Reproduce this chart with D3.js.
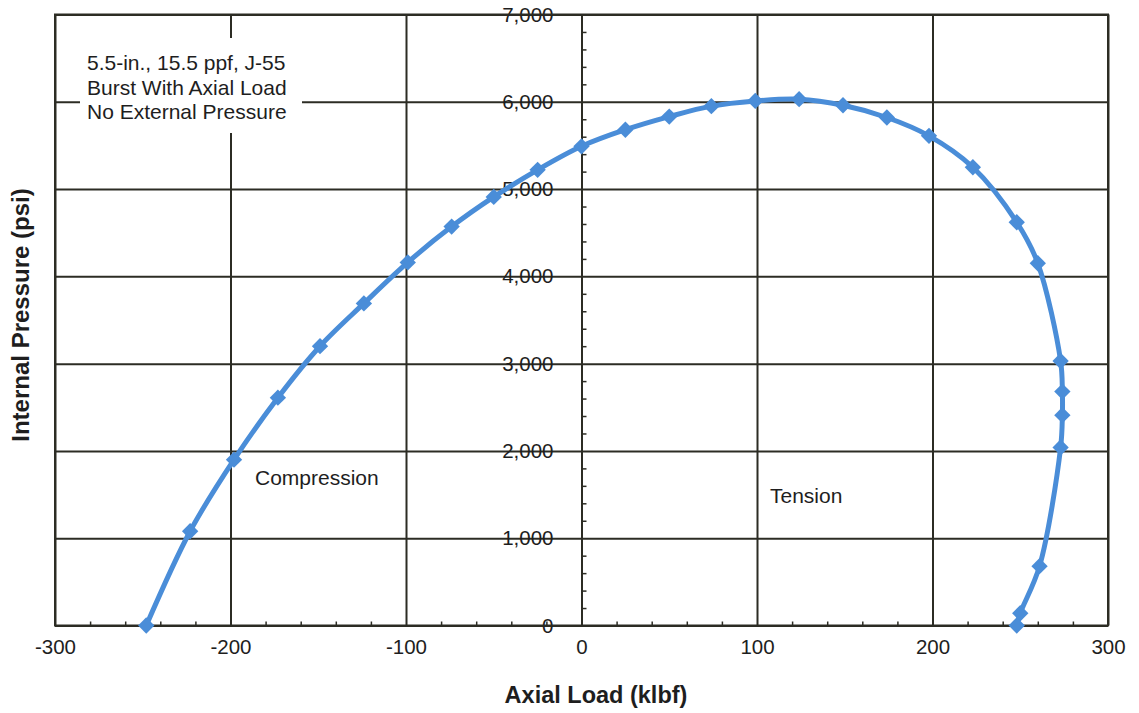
<!DOCTYPE html>
<html>
<head>
<meta charset="utf-8">
<script src="https://cdn.jsdelivr.net/npm/d3@7"></script>
<style>
  html, body { margin: 0; padding: 0; background: #fff; }
  svg { display: block; font-family: "Liberation Sans", Arial, sans-serif; }
</style>
</head>
<body>
<svg id="chart" width="1139" height="713"></svg>
<script>
// ---- data ----
const axialLoad = [-248, -223, -198, -173, -149, -124, -99, -74, -50, -25, 0, 25, 50, 74, 99, 124, 149, 174, 198, 223, 248, 260, 273, 274, 274, 273, 261, 250, 248];
const internalPressure = [0, 1080, 1900, 2610, 3200, 3690, 4160, 4570, 4910, 5220, 5490, 5680, 5830, 5950, 6010, 6030, 5960, 5820, 5610, 5250, 4620, 4150, 3030, 2680, 2410, 2040, 680, 140, 0];
const xTicks = [-300, -200, -100, 0, 100, 200, 300];
const yTicks = [0, 1000, 2000, 3000, 4000, 5000, 6000, 7000];
const noteLines = ["5.5-in., 15.5 ppf, J-55", "Burst With Axial Load", "No External Pressure"];
const regionLabels = ["Compression", "Tension"];
const xTitle = "Axial Load (klbf)";
const yTitle = "Internal Pressure (psi)";

// ---- layout ----
const plotL = 55, plotR = 1108, plotT = 14.5, plotB = 625.5;
const gridColor = "#2c2c24";
const textColor = "#1e1e1e";
const blue = "#4a8dd8";

const svg = d3.select("#chart");
const x = d3.scaleLinear().domain([-300, 300]).range([plotL, plotR]);
const y = d3.scaleLinear().domain([0, 7000]).range([plotB, plotT]);

// vertical grid lines
svg.append("g")
  .attr("transform", `translate(0,${plotB})`)
  .call(d3.axisBottom(x).tickValues(xTicks).tickSize(-(plotB - plotT)).tickFormat(""))
  .call(g => g.select(".domain").remove())
  .call(g => g.selectAll("line").attr("stroke", gridColor).attr("stroke-width", 2));

// horizontal grid lines
svg.append("g")
  .attr("transform", `translate(${plotL},0)`)
  .call(d3.axisLeft(y).tickValues(yTicks).tickSize(-(plotR - plotL)).tickFormat(""))
  .call(g => g.select(".domain").remove())
  .call(g => g.selectAll("line").attr("stroke", gridColor).attr("stroke-width", 2));

// minor ticks on x axis (every 20)
const xMinor = d3.range(-300, 301, 20).filter(v => v % 100 !== 0);
svg.append("g")
  .attr("transform", `translate(0,${plotB})`)
  .call(d3.axisTop(x).tickValues(xMinor).tickSize(4).tickFormat(""))
  .call(g => g.select(".domain").remove())
  .call(g => g.selectAll("line").attr("stroke", gridColor).attr("stroke-width", 1.5));

// minor ticks on the y axis at x = 0 (every 200)
const yMinor = d3.range(0, 7001, 200).filter(v => v % 1000 !== 0);
svg.append("g")
  .attr("transform", `translate(${x(0)},0)`)
  .call(d3.axisRight(y).tickValues(yMinor).tickSize(5).tickFormat(""))
  .call(g => g.select(".domain").remove())
  .call(g => g.selectAll("line").attr("stroke", gridColor).attr("stroke-width", 1.5));

// white box behind note
svg.append("rect")
  .attr("x", 80).attr("y", 38).attr("width", 222).attr("height", 95)
  .attr("fill", "#fff");

// note text
svg.append("g")
  .selectAll("text")
  .data(noteLines)
  .join("text")
  .attr("x", 87)
  .attr("y", (d, i) => 63 + i * 24.5)
  .attr("dy", "0.35em")
  .attr("font-size", 21)
  .attr("fill", textColor)
  .text(d => d);

// y tick labels (at x = 0)
svg.append("g")
  .attr("transform", `translate(${x(0)},0)`)
  .call(d3.axisLeft(y).tickValues(yTicks).tickSize(0).tickPadding(28).tickFormat(d3.format(",")))
  .call(g => g.select(".domain").remove())
  .call(g => g.selectAll("text").attr("font-size", 20.5).attr("fill", textColor)
    .attr("font-family", "'Liberation Sans', Arial, sans-serif"));

// x tick labels (plain hyphen minus, as in the reference)
svg.append("g")
  .attr("transform", `translate(0,${plotB})`)
  .call(d3.axisBottom(x).tickValues(xTicks).tickSize(0).tickPadding(14).tickFormat(d => String(d)))
  .call(g => g.select(".domain").remove())
  .call(g => g.selectAll("text").attr("font-size", 20.5).attr("fill", textColor)
    .attr("font-family", "'Liberation Sans', Arial, sans-serif"));

// plot border
svg.append("rect")
  .attr("x", plotL).attr("y", plotT)
  .attr("width", plotR - plotL).attr("height", plotB - plotT)
  .attr("fill", "none").attr("stroke", gridColor).attr("stroke-width", 2);

// region labels
svg.append("text").attr("x", 255).attr("y", 478).attr("dy", "0.35em")
  .attr("font-size", 21).attr("fill", textColor).text(regionLabels[0]);
svg.append("text").attr("x", 770).attr("y", 496).attr("dy", "0.35em")
  .attr("font-size", 21).attr("fill", textColor).text(regionLabels[1]);

// axis titles
svg.append("text")
  .attr("x", 596).attr("y", 695).attr("dy", "0.35em")
  .attr("text-anchor", "middle")
  .attr("font-size", 23.5).attr("font-weight", "bold").attr("fill", textColor)
  .text(xTitle);
svg.append("text")
  .attr("transform", "translate(21,315) rotate(-90)")
  .attr("dy", "0.35em")
  .attr("text-anchor", "middle")
  .attr("font-size", 24).attr("font-weight", "bold").attr("fill", textColor)
  .text(yTitle);

// curve
const pts = axialLoad.map((v, i) => [v, internalPressure[i]]);
svg.append("path")
  .datum(pts)
  .attr("fill", "none")
  .attr("stroke", blue)
  .attr("stroke-width", 5)
  .attr("stroke-linejoin", "round")
  .attr("d", d3.line().x(d => x(d[0])).y(d => y(d[1])).curve(d3.curveCatmullRom.alpha(0.5)));

// diamond markers
svg.append("g")
  .selectAll("path")
  .data(pts)
  .join("path")
  .attr("transform", d => `translate(${x(d[0])},${y(d[1])})`)
  .attr("d", d3.symbol().type(d3.symbolDiamond2).size(170))
  .attr("fill", blue);
</script>
</body>
</html>
